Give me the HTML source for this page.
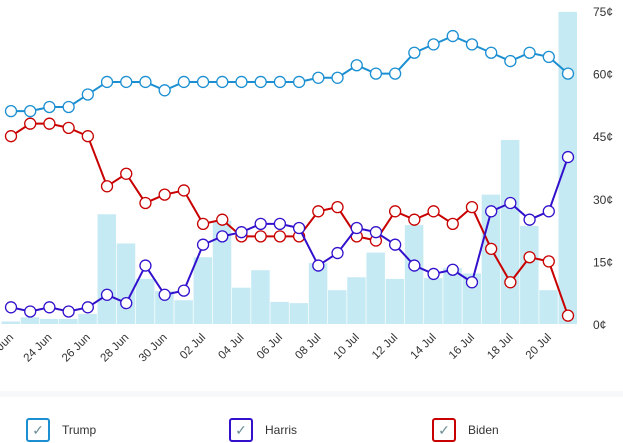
<!DOCTYPE html>
<html><head><meta charset="utf-8"><style>
body{margin:0;background:#fff;width:623px;height:443px;overflow:hidden;font-family:"Liberation Sans",sans-serif}
svg{position:absolute;left:0;top:0}
.lg{position:absolute;top:418px;display:flex;align-items:center;font-size:12px;color:#333}
.bx{width:20px;height:20px;border:2px solid;border-radius:3px;margin-right:12px;display:flex;align-items:center;justify-content:center;color:#6c8f94;font-size:14px}
</style></head><body>
<svg id="c" width="623" height="443"></svg>
<div class="lg" style="left:26px"><div class="bx" style="border-color:#1b8fd2">✓</div>Trump</div>
<div class="lg" style="left:229px"><div class="bx" style="border-color:#3311cc">✓</div>Harris</div>
<div class="lg" style="left:432px"><div class="bx" style="border-color:#c80000">✓</div>Biden</div>
<script>
const dates=["22 Jun","23 Jun","24 Jun","25 Jun","26 Jun","27 Jun","28 Jun","29 Jun","30 Jun","01 Jul","02 Jul","03 Jul","04 Jul","05 Jul","06 Jul","07 Jul","08 Jul","09 Jul","10 Jul","11 Jul","12 Jul","13 Jul","14 Jul","15 Jul","16 Jul","17 Jul","18 Jul","19 Jul","20 Jul","21 Jul"];
const trump=[51,51,52,52,55,58,58,58,56,58,58,58,58,58,58,58,59,59,62,60,60,65,67,69,67,65,63,65,64,60];
const harris=[4,3,4,3,4,7,5,14,7,8,19,21,22,24,24,23,14,17,23,22,19,14,12,13,10,27,29,25,27,40];
const biden=[45,48,48,47,45,33,36,29,31,32,24,25,21,21,21,21,27,28,21,20,27,25,27,24,28,18,10,16,15,2];
const volume=[0.6,1.6,1.2,1.2,2.4,26.3,19.3,10.8,7.9,5.7,16,24.7,8.7,12.9,5.3,5,14.6,8.1,11.2,17.1,10.8,23.7,11,13.4,12.1,31,44.1,23.5,8.1,74.8];
const yTicks=[0,15,30,45,60,75];
const NS="http://www.w3.org/2000/svg",svg=document.getElementById('c');
const x=i=>11+i*(557/(dates.length-1));
const y=v=>324-v*(313/75);
function el(t,a,p){const e=document.createElementNS(NS,t);for(const k in a)e.setAttribute(k,a[k]);(p||svg).appendChild(e);return e;}
const sep=el('rect',{x:0,y:391,width:623,height:6,fill:'#f7f8fa'});


volume.forEach((v,i)=>{const b=el('rect',{x:x(i)-9.5,y:y(v),width:18.5,height:324-y(v),fill:'#c6eaf3'});

});
yTicks.forEach(t=>{const tx=el('text',{x:593,y:y(t)+5,'font-size':12,fill:'#333'});tx.textContent=t+'¢';

});
dates.forEach((d,i)=>{if(i%2)return;const tx=el('text',{x:x(i)+3,y:338,'font-size':11.5,fill:'#333','text-anchor':'end',transform:`rotate(-45 ${x(i)+3} 338)`});tx.textContent=d;

});
[[trump,'#1b8fd2','trump'],[biden,'#c80000','biden'],[harris,'#3311cc','harris']].forEach(([s,c,n])=>{
const g=el('g',{});


el('polyline',{points:s.map((v,i)=>x(i)+','+y(v)).join(' '),fill:'none',stroke:c,'stroke-width':2},g);
s.forEach((v,i)=>{const p=el('circle',{cx:x(i),cy:y(v),r:5.5,fill:'#fff',stroke:c,'stroke-width':1.3},g);

});});
</script>
</body></html>
